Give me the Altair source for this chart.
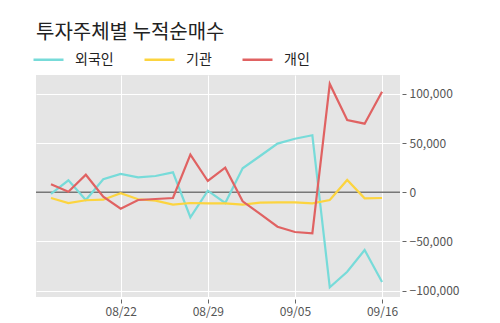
import altair as alt
import pandas as pd

dates = ["08/16", "08/19", "08/20", "08/21", "08/22", "08/23", "08/26", "08/27",
         "08/28", "08/29", "08/30", "09/02", "09/03", "09/04", "09/05", "09/06",
         "09/09", "09/10", "09/11", "09/16"]
foreign = [-1700, 12200, -7800, 13200, 18600, 15200, 16600, 20300, -25400, 1600,
           -10900, 24400, 36900, 49500, 54500, 58000, -96600, -80800, -58700, -91300]
institution = [-5800, -10900, -8100, -7500, -1000, -7100, -8500, -12600, -10900, -11200,
               -11200, -12600, -10600, -10200, -10200, -11200, -7800, 12500, -6100, -5800]
individual = [8100, 600, 17900, -4500, -16700, -7800, -6800, -5800, 38300, 11500,
              25000, -9200, -22000, -35000, -40400, -41700, 110200, 73500, 69800, 102300]
series_names = ["외국인", "기관", "개인"]
series_colors = ["#77dbd9", "#fcd43f", "#e06262"]
tick_idx = [4, 9, 14, 19]
y_ticks = [-100000, -50000, 0, 50000, 100000]

rows = []
for name, vals in zip(series_names, [foreign, institution, individual]):
    for i, v in enumerate(vals):
        rows.append({"idx": i, "date": dates[i], "series": name, "value": v})
df = pd.DataFrame(rows)

FONT = "Noto Sans CJK KR"
label_expr = "[" + ",".join(f"'{d}'" for d in dates) + "][datum.value]"

x = alt.X("idx:Q",
          scale=alt.Scale(domain=[-0.86, 20.03], nice=False, zero=False),
          axis=alt.Axis(values=tick_idx, labelExpr=label_expr, title=None,
                        domain=False, tickSize=4, tickColor="#666", offset=2,
                        labelColor="#555", labelFontSize=12, labelFont=FONT,
                        labelPadding=3, gridColor="white", gridWidth=1))
y = alt.Y("value:Q",
          scale=alt.Scale(domain=[-106500, 119300], nice=False, zero=False),
          axis=alt.Axis(orient="right", values=y_ticks, format=",d", title=None,
                        domain=False, tickSize=4, tickColor="#666", offset=2,
                        labelColor="#555", labelFontSize=12, labelFont=FONT,
                        labelPadding=3, gridColor="white", gridWidth=1))

lines = alt.Chart(df).mark_line(strokeWidth=2.2).encode(
    x=x, y=y,
    color=alt.Color("series:N",
                    scale=alt.Scale(domain=series_names, range=series_colors),
                    legend=alt.Legend(orient="none", legendX=-4, legendY=-32,
                                      direction="horizontal", title=None,
                                      symbolType="stroke", symbolSize=900,
                                      symbolStrokeWidth=2.5, labelOffset=10,
                                      columnPadding=25, labelFontSize=14,
                                      labelFont=FONT, labelColor="#222")),
    detail="series:N",
)

zero = alt.Chart(pd.DataFrame({"value": [0]})).mark_rule(color="#777", strokeWidth=1.5).encode(y=y)

chart = alt.layer(zero, lines).properties(
    width=364, height=222,
    title=alt.TitleParams("투자주체별 누적순매수", anchor="start", fontSize=20,
                          font=FONT, fontWeight="normal", color="#222",
                          frame="group", offset=0, dx=0),
    autosize=alt.AutoSizeParams(type="none"),
    padding={"left": 36, "top": 75, "right": 100, "bottom": 26},
).configure_view(fill="#e5e5e5", stroke=None)

chart.save("out.html", embed_options={"renderer": "svg", "actions": False})
